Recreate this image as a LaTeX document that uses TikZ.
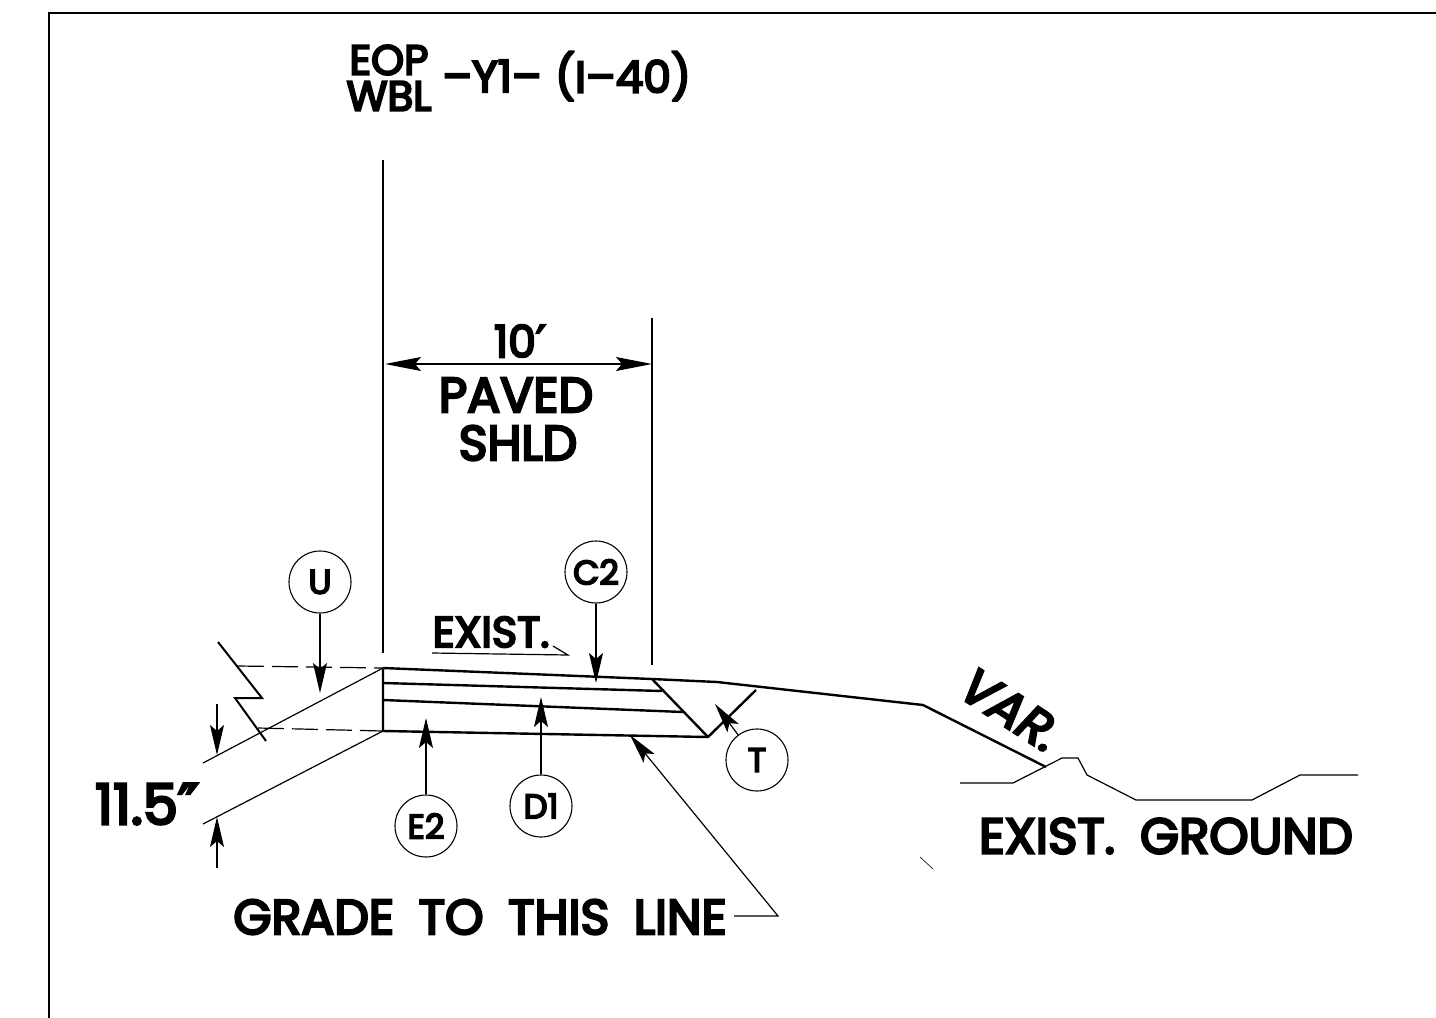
\documentclass[tikz,border=0pt]{standalone}
\usepackage{fontspec}
\setmainfont{Poppins}[FakeBold=5]
\newfontfamily\primefont{DejaVu Sans}[FakeBold=5]
\usetikzlibrary{arrows.meta}

\begin{document}
\begin{tikzpicture}[
x=0.5pt, y=-0.5pt,
    Tag/.style = {circle, draw, line width=0.55pt, minimum size=31pt,
                  inner sep=0pt, font=\fontsize{17}{17}\selectfont},
    Lbl/.style = {inner sep=0pt, font=\fontsize{#1}{#1}\selectfont},
    Lbl/.default=24.5,
    Thn/.style = {line width=0.6pt},
    Thk/.style = {line width=1.2pt},
    Arr/.style = {Thn, -{Stealth[length=15pt, width=7pt, inset=3pt]}},
    Big/.style = {Thn, {Stealth[length=18pt, width=7pt, inset=3pt]}-{Stealth[length=18pt, width=7pt, inset=3pt]}},
    Dsh/.style = {Thn, dash pattern=on 13pt off 4pt},
                        ]
\useasboundingbox (0,0) rectangle (1436,1018);
% sheet border
\draw[line width=1pt] (49,1018) -- (49,13) -- (1436,13);

% pavement points
\coordinate (a1) at (383,668);  \coordinate (a2) at (652,679);
\coordinate (a3) at (717,682);  \coordinate (a4) at (923,705);
\coordinate (a5) at (1046,767);
\coordinate (b1) at (383,683);  \coordinate (b2) at (662,691);
\coordinate (c1) at (383,700);  \coordinate (c2) at (683,712);
\coordinate (d1) at (383,731);  \coordinate (d2) at (708,737);
\coordinate (d3) at (756,690);

\draw[Thk] (a1) -- (a2) -- (a3) -- (a4) -- (a5);
\draw[Thk] (b1) -- (b2);
\draw[Thk] (c1) -- (c2);
\draw[Thk] (a1) -- (d1) -- (d2) -- (d3);
\draw[Thk] (a2) -- (d2);

% reference lines
\coordinate (p1) at (383,160);  \coordinate (p2) at (383,653);
\coordinate (q1) at (652,318);  \coordinate (q2) at (652,665);
\draw[Thn] (p1) -- (p2);
\draw[Thn] (q1) -- (q2);

% break line and slopes
\coordinate (z1) at (218,642);  \coordinate (z2) at (262,698);
\coordinate (z3) at (235,698);  \coordinate (z4) at (266,741);
\draw[line width=1pt] (z1) -- (z2) -- (z3) -- (z4);
\coordinate (e1) at (238,666);  \coordinate (e2) at (258,728);
\draw[Dsh] (e1) -- (a1);
\draw[Dsh] (e2) -- (d1);
\coordinate (f1) at (203,763);  \coordinate (f2) at (203,824);
\draw[Thn] (a1) -- (f1);
\draw[Thn] (d1) -- (f2);

% 11.5 dimension
\coordinate (g1) at (217,704);  \coordinate (g2) at (217,755);
\coordinate (g3) at (217,868);  \coordinate (g4) at (217,817);
\draw[Arr] (g1) -- (g2);
\draw[Arr] (g3) -- (g4);
\node[Lbl=28] (dim) at (147,804) {11.5{\primefont ″}};

% 10 ft dimension
\coordinate (h1) at (385,364);  \coordinate (h2) at (652,364);
\draw[Big] (h1) -- (h2);
\node[Lbl=22] (ten) at (520,341) {10{\primefont ′}};
\node[Lbl] (paved) at (516,395) {PAVED};
\node[Lbl] (shld) at (518,443) {SHLD};

% circled callouts
\node[Tag] (U)  at (320,582) {U};
\node[Tag] (C2) at (596,572) {C2};
\node[Tag] (E2) at (426,826) {E2};
\node[Tag] (D1) at (541,806) {D1};
\node[Tag] (T)  at (757,760) {T};
\coordinate (tU) at (320,693);  \coordinate (tC) at (596,683);
\coordinate (tE) at (426,718);  \coordinate (tD) at (541,697);
\coordinate (tT) at (715,704);
\draw[Arr] (U) -- (tU);
\draw[Arr] (C2) -- (tC);
\draw[Arr] (E2) -- (tE);
\draw[Arr] (D1) -- (tD);
\draw[Arr] (T) -- (tT);

% slope note
\node[Lbl=21.5] (exist) at (491,632) {EXIST.};
\coordinate (k1) at (432,653);  \coordinate (k2) at (568,655);
\coordinate (k3) at (553,646);
\draw[Thn] (k1) -- (k2) -- (k3);

% grade leader
\node[Lbl=24.5] (grade) at (480,917) {GRADE\,\,\,TO\,\,\,THIS\,\,\,LINE};
\coordinate (m1) at (734,916);  \coordinate (m2) at (778,916);
\coordinate (m3) at (630,735);
\draw[Arr] (m1) -- (m2) -- (m3);
\coordinate (n1) at (920,857);  \coordinate (n2) at (933,869);
\draw[line width=0.3pt] (n1) -- (n2);

% existing ground
\coordinate (r1) at (960,783);   \coordinate (r2) at (1013,783);
\coordinate (r3) at (1062,758);  \coordinate (r4) at (1078,758);
\coordinate (r5) at (1087,775);  \coordinate (r6) at (1136,800);
\coordinate (r7) at (1252,800);  \coordinate (r8) at (1300,775);
\coordinate (r9) at (1358,775);
\draw[Thn] (r1) -- (r2) -- (r3) -- (r4) -- (r5) -- (r6) -- (r7) -- (r8) -- (r9);
\node[Lbl=25] (ground) at (1166,836) {EXIST.\,\,\,GROUND};
\node[rotate=-33, inner sep=0pt, font=\fontsize{25}{25}\selectfont\itshape] (var) at (1011,710) {VAR.};

% title
\node[Lbl=21] (eop) at (389,60) {EOP};
\node[Lbl=21] (wbl) at (389,96) {WBL};
\node[Lbl=22] (yone) at (492,76) {–Y1–};
\node[Lbl=22] (route) at (623,76) {(I–40)};
\end{tikzpicture}
\end{document}
